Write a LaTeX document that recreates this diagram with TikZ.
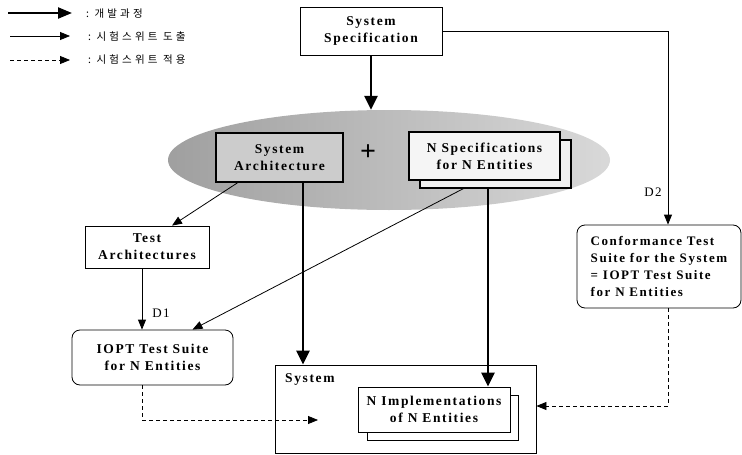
\documentclass[tikz,border=0pt]{standalone}
\usepackage{fontspec}
\setmainfont{Liberation Serif}
\newfontfamily\lsp[LetterSpace=12]{Liberation Serif}
\newfontfamily\kr[LetterSpace=30]{Noto Sans CJK KR}
\usetikzlibrary{arrows.meta,calc}
\begin{document}
\begin{tikzpicture}[x=1pt,y=-1pt,
  lbl/.style={font=\lsp\bfseries\fontsize{13.5}{17}\selectfont, align=center},
  sbox/.style={draw, line width=0.8pt, fill=white, lbl, inner sep=0pt},
  rbox/.style={sbox, rounded corners=8pt},
  thickarr/.style={line width=2.6pt, -{Triangle[length=14pt,width=13pt]}},
  thinarr/.style={line width=0.8pt, -{Triangle[length=10pt,width=8pt]}},
  dasharr/.style={line width=0.8pt, dashed, dash pattern=on 4pt off 3pt, -{Triangle[length=10pt,width=8pt]}},
  legtxt/.style={font=\kr\fontsize{10.5}{12}\selectfont, anchor=west, inner sep=0pt},
  dlbl/.style={font=\lsp\fontsize{13}{14}\selectfont, inner sep=0pt}
]
\useasboundingbox (0,0) rectangle (742,455);

% legend
\coordinate (l1a) at (8,13);   \coordinate (l1b) at (72,13);
\coordinate (l2a) at (10,36);  \coordinate (l2b) at (70,36);
\coordinate (l3a) at (10,60);  \coordinate (l3b) at (70,60);
\draw[line width=2.2pt, -{Triangle[length=14pt,width=11pt]}] (l1a) -- (l1b);
\draw[thinarr] (l2a) -- (l2b);
\draw[dasharr] (l3a) -- (l3b);
\node[legtxt] (t1) at (86,14) {:\ 개발과정};
\node[legtxt] (t2) at (88,37) {:\ 시험스위트\ 도출};
\node[legtxt] (t3) at (88,60) {:\ 시험스위트\ 적용};

% ellipse
\shade[left color=gray!75, right color=gray!30] (389,160) ellipse[x radius=221, y radius=50];
\node[minimum width=442pt, minimum height=100pt, inner sep=0pt] (ell) at (389,160) {};

% boxes
\node[sbox, minimum width=142pt, minimum height=48pt] (spec) at (371,31) {System\\Specification};
\node[sbox, fill=gray!40, line width=1.6pt, minimum width=127pt, minimum height=49pt] (sysarch) at (279.5,157.5) {System\\Architecture};
\node[font=\bfseries\fontsize{28}{28}\selectfont, inner sep=0pt] (plus) at (368,153) {+};
\node[sbox, fill=gray!12, line width=1.1pt, minimum width=151pt, minimum height=48pt] (nspecb) at (495.5,164) {};
\node[sbox, fill=gray!8, line width=1.1pt, minimum width=151pt, minimum height=48pt] (nspec) at (484.5,156) {N Specifications\\for N Entities};

\node[sbox, minimum width=124pt, minimum height=42pt] (testarch) at (147,247) {Test\\Architectures};
\node[rbox, minimum width=161pt, minimum height=55pt] (iopt) at (152.5,357.5) {IOPT Test Suite\\for N Entities};
\node[rbox, align=left, minimum width=164pt, minimum height=83pt, font=\lsp\bfseries\fontsize{13}{17}\selectfont] (conf) at (659,266.5) {Conformance Test\\Suite for the System\\= IOPT Test Suite\\for N Entities};

\node[draw, line width=0.8pt, minimum width=261pt, minimum height=88pt, inner sep=0pt] (system) at (405.5,409) {};
\node[lbl, anchor=north west, inner sep=0pt] (systxt) at (285,373) {System};
\node[sbox, minimum width=151pt, minimum height=45pt] (nimplb) at (442.5,417.5) {};
\node[sbox, minimum width=152pt, minimum height=45pt] (nimpl) at (434,409.5) {N Implementations\\of N Entities};

% connectors
\draw[thickarr] (spec.south) -- (spec.south |- ell.north);
\draw[thinarr] (spec.east) -| ([xshift=9pt]conf.north);
\node[dlbl] (d2) at (653,192) {D2};
\draw[thinarr] ([xshift=-42pt]sysarch.south) -- ([xshift=25pt]testarch.north);
\draw[thickarr] ([xshift=23.5pt]sysarch.south) -- ([xshift=23.5pt]sysarch.south |- system.north);
\draw[thinarr] ([xshift=-32pt]nspecb.south) -- ([xshift=40pt]iopt.north);
\draw[thickarr] ([xshift=-7.5pt]nspecb.south) -- ([xshift=-7.5pt]nspecb.south |- nimpl.north);
\draw[thinarr] ([xshift=-5pt]testarch.south) -- ([xshift=-5pt]testarch.south |- iopt.north);
\node[dlbl] (d1) at (161,313) {D1};
\coordinate (dashend) at (318,420);
\draw[dasharr] ([xshift=-10.5pt]iopt.south) |- (dashend);
\draw[dasharr] ([xshift=9pt]conf.south) |- ([yshift=3pt]system.east);
\end{tikzpicture}
\end{document}
